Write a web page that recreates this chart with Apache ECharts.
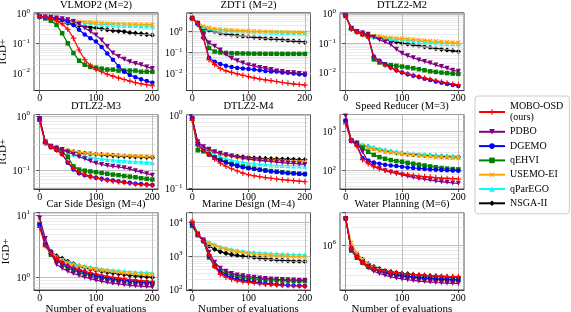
<!DOCTYPE html>
<html><head><meta charset="utf-8">
<script src="https://cdn.jsdelivr.net/npm/echarts@6/dist/echarts.min.js"></script>
<style>html,body{margin:0;padding:0;background:#fff}#c{width:571px;height:312px}</style>
</head><body><div id="c"></div>
<script>
const evals = [0,10,20,30,40,50,60,70,80,90,100,110,120,130,140,150,160,170,180,190,200];
const methods = ['MOBO-OSD\n(ours)','PDBO','DGEMO','qEHVI','USEMO-EI','qParEGO','NSGA-II'];
const titles = ['VLMOP2 (M=2)','ZDT1 (M=2)','DTLZ2-M2','DTLZ2-M3','DTLZ2-M4','Speed Reducer (M=3)','Car Side Design (M=4)','Marine Design (M=4)','Water Planning (M=6)'];
const yMin = [0.00255,0.00149,0.00245,0.0463,0.0978,34.6,0.625,95.3,1.65e5];
const yMax = [1.08,7.93,1.08,1.065,1.016,2605,10.9,19950,3.65e6];
const xTicks = [0,100,200];

// order of each panel: MOBO-OSD, PDBO, DGEMO, qEHVI, USEMO-EI, qParEGO, NSGA-II
const vlmop2 = [
 [0.8,0.76,0.7,0.58,0.45,0.3,0.15,0.06,0.028,0.018,0.013,0.011,0.009,0.0078,0.0068,0.006,0.0053,0.0047,0.0043,0.004,0.0037],
 [0.8,0.78,0.76,0.72,0.68,0.63,0.55,0.45,0.33,0.25,0.19,0.13,0.078,0.047,0.036,0.029,0.024,0.021,0.019,0.016,0.014],
 [0.8,0.78,0.75,0.7,0.62,0.55,0.42,0.29,0.2,0.15,0.115,0.075,0.045,0.028,0.017,0.011,0.0086,0.0072,0.0061,0.0053,0.0047],
 [0.8,0.7,0.58,0.42,0.22,0.1,0.047,0.026,0.019,0.016,0.015,0.014,0.013,0.013,0.012,0.012,0.012,0.012,0.011,0.011,0.011],
 [0.8,0.75,0.7,0.66,0.62,0.6,0.57,0.55,0.53,0.52,0.5,0.49,0.48,0.47,0.46,0.46,0.45,0.45,0.44,0.44,0.43],
 [0.8,0.72,0.66,0.61,0.57,0.54,0.52,0.5,0.48,0.47,0.45,0.44,0.43,0.42,0.41,0.41,0.4,0.4,0.39,0.39,0.38],
 [0.8,0.72,0.64,0.58,0.52,0.47,0.43,0.4,0.37,0.35,0.33,0.31,0.29,0.27,0.26,0.25,0.23,0.22,0.21,0.2,0.19]
];
const zdt1 = [
 [4.4,2.5,0.5,0.045,0.026,0.017,0.013,0.011,0.0093,0.008,0.0069,0.006,0.0053,0.0048,0.0044,0.004,0.0036,0.0033,0.0031,0.0029,0.0027],
 [4.4,2.5,0.7,0.28,0.2,0.13,0.08,0.053,0.04,0.031,0.025,0.022,0.019,0.017,0.015,0.013,0.012,0.011,0.0105,0.0098,0.0093],
 [4.4,2.5,0.5,0.055,0.036,0.028,0.023,0.02,0.018,0.017,0.016,0.015,0.014,0.013,0.012,0.012,0.011,0.0105,0.0098,0.009,0.0085],
 [4.4,2.5,0.9,0.16,0.11,0.1,0.095,0.092,0.09,0.089,0.088,0.087,0.087,0.086,0.086,0.086,0.085,0.085,0.085,0.085,0.085],
 [4.4,2.5,1.8,1.5,1.35,1.28,1.22,1.17,1.13,1.1,1.07,1.05,1.03,1.01,0.99,0.97,0.96,0.94,0.93,0.92,0.9],
 [4.4,2.3,1.7,1.45,1.3,1.22,1.16,1.11,1.07,1.04,1.01,0.99,0.97,0.95,0.93,0.92,0.9,0.89,0.88,0.87,0.86],
 [4.4,2.2,1.45,1.15,0.97,0.84,0.76,0.7,0.64,0.6,0.57,0.53,0.5,0.47,0.45,0.43,0.4,0.37,0.35,0.33,0.31]
];
const dtlz2m2 = [
 [0.85,0.3,0.24,0.2,0.16,0.033,0.024,0.018,0.0145,0.012,0.0102,0.009,0.008,0.0072,0.0065,0.0059,0.0053,0.0048,0.0044,0.0041,0.0038],
 [0.85,0.32,0.25,0.22,0.2,0.16,0.13,0.11,0.09,0.062,0.045,0.037,0.032,0.027,0.024,0.021,0.018,0.016,0.014,0.012,0.011],
 [0.85,0.32,0.25,0.2,0.17,0.035,0.025,0.019,0.015,0.012,0.01,0.0088,0.0078,0.007,0.0062,0.0056,0.005,0.0045,0.0041,0.0038,0.0035],
 [0.85,0.32,0.25,0.2,0.17,0.028,0.022,0.019,0.018,0.017,0.016,0.015,0.014,0.013,0.012,0.011,0.0105,0.01,0.0096,0.0092,0.009],
 [0.85,0.32,0.25,0.22,0.2,0.18,0.17,0.16,0.155,0.15,0.145,0.14,0.135,0.13,0.125,0.12,0.117,0.113,0.11,0.107,0.105],
 [0.85,0.32,0.25,0.22,0.19,0.17,0.16,0.15,0.14,0.135,0.13,0.125,0.12,0.115,0.11,0.107,0.104,0.1,0.098,0.096,0.095],
 [0.85,0.32,0.25,0.22,0.19,0.165,0.15,0.135,0.12,0.11,0.1,0.093,0.087,0.081,0.076,0.071,0.066,0.062,0.058,0.055,0.052]
];
const dtlz2m3 = [
 [0.8,0.32,0.27,0.24,0.2,0.145,0.11,0.092,0.084,0.078,0.074,0.07,0.067,0.065,0.063,0.061,0.059,0.057,0.056,0.055,0.054],
 [0.9,0.33,0.28,0.26,0.245,0.22,0.2,0.18,0.165,0.15,0.137,0.13,0.124,0.12,0.117,0.113,0.107,0.1,0.094,0.088,0.083],
 [0.85,0.33,0.27,0.24,0.2,0.14,0.105,0.09,0.083,0.078,0.074,0.071,0.068,0.066,0.064,0.062,0.06,0.058,0.057,0.056,0.055],
 [0.9,0.34,0.28,0.25,0.22,0.18,0.12,0.105,0.1,0.097,0.094,0.091,0.088,0.085,0.083,0.08,0.078,0.076,0.073,0.071,0.069],
 [0.9,0.33,0.28,0.26,0.245,0.235,0.225,0.218,0.212,0.207,0.203,0.2,0.197,0.194,0.191,0.189,0.187,0.185,0.183,0.181,0.18],
 [0.9,0.32,0.27,0.25,0.23,0.215,0.2,0.19,0.182,0.175,0.17,0.165,0.16,0.157,0.154,0.151,0.148,0.146,0.144,0.142,0.14],
 [0.9,0.33,0.28,0.26,0.24,0.23,0.22,0.213,0.207,0.202,0.198,0.195,0.192,0.189,0.186,0.184,0.182,0.18,0.178,0.176,0.175]
];
const dtlz2m4 = [
 [0.85,0.38,0.33,0.29,0.25,0.22,0.2,0.185,0.172,0.161,0.153,0.148,0.144,0.14,0.137,0.134,0.131,0.129,0.127,0.125,0.123],
 [0.9,0.43,0.37,0.34,0.315,0.3,0.287,0.275,0.265,0.257,0.25,0.245,0.24,0.236,0.232,0.228,0.224,0.221,0.218,0.215,0.212],
 [0.9,0.4,0.33,0.29,0.26,0.24,0.225,0.212,0.202,0.194,0.188,0.183,0.178,0.174,0.17,0.167,0.164,0.161,0.159,0.157,0.155],
 [0.9,0.33,0.32,0.29,0.265,0.245,0.228,0.215,0.205,0.197,0.19,0.185,0.18,0.176,0.172,0.169,0.166,0.163,0.161,0.159,0.157],
 [0.9,0.42,0.36,0.33,0.31,0.295,0.283,0.274,0.266,0.26,0.255,0.25,0.246,0.243,0.24,0.238,0.236,0.234,0.232,0.231,0.23],
 [0.9,0.41,0.34,0.3,0.28,0.265,0.252,0.242,0.234,0.227,0.222,0.218,0.214,0.211,0.208,0.206,0.204,0.203,0.202,0.201,0.2],
 [0.9,0.42,0.36,0.33,0.31,0.295,0.285,0.278,0.272,0.268,0.264,0.26,0.257,0.255,0.253,0.251,0.25,0.249,0.248,0.246,0.245]
];
const speedReducer = [
 [1500,580,420,190,150,126,112,102,94,88,83,79,76,73,71,69,67,65,64,63,62],
 [2400,560,500,300,170,130,112,100,92,85,78,73,68,64,61,58,55,53,51,49,48],
 [1800,560,440,210,180,160,150,142,136,131,126,121,117,114,111,108,106,104,102,101,100],
 [1800,580,480,380,300,250,220,200,185,175,168,158,150,142,135,128,122,117,113,110,108],
 [1800,580,480,420,380,350,320,300,285,272,262,252,245,238,232,227,222,218,214,210,207],
 [1800,600,520,460,420,390,360,335,315,300,290,280,272,265,258,252,247,243,240,237,235],
 [1800,600,500,440,400,370,340,315,300,285,275,265,257,250,245,240,235,230,226,222,220]
];
const carSide = [
 [6.3,3.2,2.4,2.0,1.75,1.55,1.42,1.33,1.25,1.18,1.13,1.08,1.04,1.0,0.97,0.94,0.92,0.9,0.88,0.86,0.85],
 [9,4.2,2.5,1.6,1.4,1.25,1.15,1.07,1.0,0.95,0.9,0.86,0.83,0.8,0.78,0.76,0.74,0.73,0.72,0.71,0.7],
 [7,3.4,2.4,1.95,1.7,1.5,1.38,1.28,1.2,1.13,1.07,1.02,0.98,0.95,0.92,0.9,0.88,0.86,0.84,0.83,0.82],
 [7,3.3,2.3,1.9,1.6,1.4,1.3,1.2,1.13,1.07,1.02,0.98,0.95,0.92,0.9,0.88,0.86,0.84,0.83,0.82,0.81],
 [8,3.8,2.6,2.1,1.85,1.7,1.6,1.52,1.45,1.4,1.35,1.3,1.27,1.24,1.21,1.18,1.16,1.14,1.12,1.11,1.1],
 [7.5,3.6,2.5,2.1,1.9,1.75,1.65,1.57,1.5,1.45,1.4,1.36,1.33,1.3,1.27,1.25,1.23,1.21,1.2,1.19,1.18],
 [7.5,3.5,2.6,2.2,2.0,1.8,1.65,1.5,1.42,1.35,1.3,1.25,1.2,1.17,1.14,1.11,1.08,1.06,1.04,1.02,1.0]
];
const marine = [
 [11000,4400,2800,1100,480,280,230,200,180,170,162,155,148,143,139,135,132,130,128,126,124],
 [9000,4600,3000,1300,650,430,350,300,270,255,240,230,220,212,205,200,196,193,190,188,186],
 [9000,4400,2900,1000,500,320,260,220,200,185,175,165,157,150,145,140,136,133,130,128,126],
 [8000,4200,2800,900,500,350,300,260,240,225,215,207,200,195,190,187,184,182,180,178,177],
 [11000,4600,3000,2400,2050,1800,1600,1450,1350,1270,1200,1150,1110,1080,1050,1030,1010,990,975,960,950],
 [11000,4800,3200,2600,2200,1900,1700,1560,1450,1380,1330,1290,1250,1220,1190,1160,1140,1120,1110,1100,1090],
 [10000,4500,2800,2000,1600,1350,1200,1100,1030,990,950,900,860,820,790,760,740,720,700,690,680]
];
const waterPlanning = [
 [2.9e6,8.5e5,6.3e5,5.0e5,4.3e5,3.9e5,3.65e5,3.5e5,3.38e5,3.28e5,3.2e5,3.13e5,3.07e5,3.02e5,2.97e5,2.93e5,2.9e5,2.87e5,2.84e5,2.82e5,2.8e5],
 [2.9e6,8.5e5,6.2e5,4.8e5,4.0e5,3.5e5,3.2e5,2.98e5,2.8e5,2.67e5,2.57e5,2.49e5,2.42e5,2.36e5,2.31e5,2.27e5,2.23e5,2.2e5,2.18e5,2.16e5,2.14e5],
 [2.9e6,8.3e5,6.2e5,5.0e5,4.3e5,3.85e5,3.55e5,3.32e5,3.15e5,3.02e5,2.92e5,2.84e5,2.77e5,2.71e5,2.66e5,2.62e5,2.58e5,2.55e5,2.52e5,2.5e5,2.48e5],
 [2.9e6,8.0e5,6.0e5,4.9e5,4.2e5,3.8e5,3.5e5,3.3e5,3.15e5,3.03e5,2.93e5,2.85e5,2.78e5,2.72e5,2.67e5,2.62e5,2.58e5,2.55e5,2.52e5,2.5e5,2.48e5],
 [2.9e6,1.1e6,7.2e5,5.6e5,4.6e5,4.0e5,3.6e5,3.35e5,3.15e5,3.0e5,2.88e5,2.78e5,2.7e5,2.63e5,2.56e5,2.5e5,2.46e5,2.42e5,2.39e5,2.36e5,2.34e5],
 [2.9e6,9.0e5,6.8e5,5.5e5,4.6e5,4.1e5,3.75e5,3.5e5,3.32e5,3.18e5,3.07e5,2.98e5,2.9e5,2.83e5,2.77e5,2.72e5,2.67e5,2.63e5,2.6e5,2.57e5,2.55e5],
 [2.9e6,9.0e5,7.0e5,5.6e5,4.7e5,4.2e5,3.85e5,3.6e5,3.42e5,3.3e5,3.2e5,3.12e5,3.05e5,2.99e5,2.94e5,2.9e5,2.86e5,2.83e5,2.8e5,2.77e5,2.75e5]
];
const panels = [vlmop2, zdt1, dtlz2m2, dtlz2m3, dtlz2m4, speedReducer, carSide, marine, waterPlanning];

const colors = ['#ff0000','#800080','#0000ff','#008000','#ffa500','#00ffff','#000000'];
const PLUS = 'path://M4,0h2v4h4v2h-4v4h-2v-4h-4v-2h4z';
const symbols = [PLUS,'triangle','circle','rect',PLUS,'triangle','diamond'];
const symRot = [0,180,0,0,45,0,0];
const symSize = [5.5,5,4.5,4.5,5.5,5,5.5];

const FONT = 'Liberation Serif';
const colLeft = [34, 186.5, 340], colW = 124;
const rowTop = [12.8, 114.5, 212.7], rowH = [77.7, 74.5, 77.3];

const grids = [], xAxes = [], yAxes = [], series = [], titleArr = [];
function supFmt(v){
  const e = Math.log10(v), r = Math.round(e);
  if (Math.abs(e - r) > 1e-6) return '';
  return '{b|10}{s|' + (r < 0 ? '\u2212' + (-r) : r) + '}';
}
for (let i = 0; i < 9; i++) {
  const r = Math.floor(i / 3), c = i % 3;
  grids.push({left: colLeft[c], top: rowTop[r], width: colW, height: rowH[r], show: true,
    borderColor: '#222', borderWidth: 0.8, backgroundColor: '#fff', containLabel: false, outerBoundsMode: 'none'});
  titleArr.push({text: titles[i], left: colLeft[c] + colW / 2, top: rowTop[r] - 13.5, textAlign: 'center', padding: 0,
    textStyle: {fontFamily: FONT, fontSize: 10.5, fontWeight: 'normal', color: '#000'}});
  xAxes.push({type: 'value', gridIndex: i, min: -10, max: 210,
    axisLine: {show: true, onZero: false, lineStyle: {color: '#222', width: 0.8}},
    axisTick: {show: true, length: 3, customValues: xTicks, lineStyle: {color: '#222', width: 0.8}},
    axisLabel: {customValues: xTicks, margin: 3, fontFamily: FONT, fontSize: 10, color: '#000'},
    splitLine: {show: false},
    name: r === 2 ? 'Number of evaluations' : '', nameLocation: 'middle', nameGap: 12,
    nameTextStyle: {fontFamily: FONT, fontSize: 11, color: '#000'}});
  yAxes.push({type: 'log', logBase: 10, gridIndex: i, min: yMin[i], max: yMax[i],
    axisLine: {show: true, lineStyle: {color: '#222', width: 0.8}},
    axisTick: {show: true, length: 3, lineStyle: {color: '#222', width: 0.8}},
    axisLabel: {margin: 4, formatter: supFmt, color: '#000',
      rich: {b: {fontFamily: FONT, fontSize: 10, color: '#000', verticalAlign: 'bottom'},
             s: {fontFamily: FONT, fontSize: 7, color: '#000', verticalAlign: 'bottom', padding: [0, 0, 5, 0]}}},
    splitLine: {show: true, lineStyle: {color: '#b0b0b0', width: 0.8}},
    name: c === 0 ? 'IGD+' : '', nameLocation: 'middle', nameGap: 22, nameRotate: 90,
    nameTextStyle: {fontFamily: FONT, fontSize: 11, color: '#000'}});
  // minor grid lines (log 2..9) and vertical grid lines
  const ml = [];
  for (let e = Math.floor(Math.log10(yMin[i])); e <= Math.ceil(Math.log10(yMax[i])); e++) {
    for (let m = 2; m <= 9; m++) {
      const v = m * Math.pow(10, e);
      if (v > yMin[i] && v < yMax[i]) ml.push({yAxis: v, lineStyle: {color: '#dedede', width: 0.6, type: 'solid'}});
    }
  }
  xTicks.forEach(t => ml.push({xAxis: t, lineStyle: {color: '#b0b0b0', width: 0.8, type: 'solid'}}));
  series.push({type: 'line', xAxisIndex: i, yAxisIndex: i, data: [], silent: true, z: 1,
    markLine: {silent: true, symbol: ['none', 'none'], label: {show: false}, animation: false, data: ml}});
  for (let k = 6; k >= 0; k--) {
    series.push({type: 'line', name: methods[k], xAxisIndex: i, yAxisIndex: i, z: 3 + (6 - k),
      data: evals.map((x, j) => [x, panels[i][k][j]]),
      color: colors[k], symbol: symbols[k], symbolRotate: symRot[k], symbolSize: symSize[k],
      showSymbol: true, lineStyle: {width: 1.2, color: colors[k]}, itemStyle: {color: colors[k]}});
  }
}

const chart = echarts.init(document.getElementById('c'), null, {renderer: 'canvas'});
chart.setOption({
  animation: false,
  backgroundColor: '#fff',
  title: titleArr,
  grid: grids, xAxis: xAxes, yAxis: yAxes, series: series,
  legend: {orient: 'vertical', left: 475, top: 96, itemWidth: 26, itemHeight: 7, itemGap: 3.3,
    padding: [5, 6, 5, 3], borderColor: '#cccccc', borderWidth: 1, borderRadius: 3, backgroundColor: '#fff',
    textStyle: {fontFamily: FONT, fontSize: 10, lineHeight: 11, color: '#000'}, data: methods}
});
</script></body></html>
